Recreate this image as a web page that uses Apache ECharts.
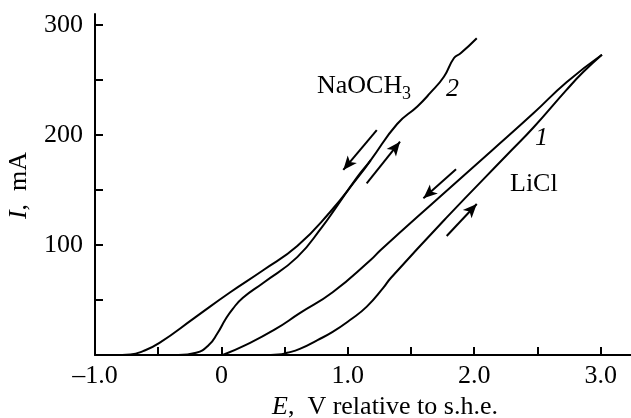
<!DOCTYPE html>
<html>
<head>
<meta charset="utf-8">
<script src="https://cdn.jsdelivr.net/npm/echarts@6/dist/echarts.min.js"></script>
<style>
  html, body { margin: 0; padding: 0; background: #fff; }
  #chart { width: 631px; height: 418px; }
</style>
</head>
<body>
<div id="chart"></div>
<script>
// axis ticks / labels
const xTicks = [-1, -0.5, 0, 0.5, 1, 1.5, 2, 2.5, 3];
const xLabels = [-1, 0, 1, 2, 3];
const yTicks = [0, 50, 100, 150, 200, 250, 300];
const yLabels = [100, 200, 300];

// curve 1 (LiCl), forward and reverse sweeps [E, I]
const liclForward = [[0.33, 0], [0.45, 0.5], [0.52, 2], [0.62, 5.5], [0.76, 13.6], [0.88, 21], [1.02, 32],
  [1.15, 44], [1.28, 61], [1.34, 70], [1.79, 126], [2.26, 182], [2.47, 207], [2.73, 241], [2.86, 257], [3.01, 273]];
const liclReverse = [[3.01, 273], [2.73, 248], [2.47, 220], [2.14, 186], [1.7, 141], [1.26, 95.5], [1.18, 86.4],
  [0.88, 57], [0.62, 38], [0.42, 23], [0.19, 9], [0.01, 0]];

// curve 2 (NaOCH3)
const naForward = [[-0.34, 0], [-0.2, 2], [-0.1, 9], [-0.03, 20], [0.03, 32], [0.09, 42], [0.17, 52], [0.33, 65.5],
  [0.6, 89], [0.8, 117], [0.9, 133], [1.07, 161], [1.18, 177], [1.39, 210], [1.55, 226], [1.65, 238],
  [1.76, 253], [1.84, 270], [1.89, 274], [2.02, 288]];
const naReverse = [[1.18, 177], [1.07, 160], [0.86, 130], [0.6, 99], [0.33, 77], [0.07, 57], [-0.21, 34],
  [-0.49, 11], [-0.62, 3.5], [-0.72, 0.5], [-0.85, 0]];

// sweep direction arrows [from, to]
const arrows = [
  [[1.229, 204.5], [0.964, 168.2]],
  [[1.149, 156], [1.413, 193.9]],
  [[1.856, 168.8], [1.598, 142.4]],
  [[1.782, 108.2], [2.020, 137.3]]
];

const FONT = '"Liberation Serif", "Times New Roman", serif';

function curve(data, extra) {
  return Object.assign({
    type: 'line',
    data: data,
    showSymbol: false,
    smooth: 0.5,
    silent: true,
    lineStyle: { color: '#000', width: 2 }
  }, extra || {});
}

let chart = echarts.init(document.getElementById('chart'));
chart.setOption({
  animation: false,
  grid: { left: 95, right: 0, top: 14, bottom: 63, outerBoundsMode: 'none' },
  xAxis: {
    type: 'value',
    min: -1,
    max: 3.24,
    splitLine: { show: false },
    axisLine: { onZero: false, lineStyle: { color: '#000', width: 2 } },
    axisTick: { inside: true, length: 8, customValues: xTicks, lineStyle: { color: '#000', width: 2 } },
    axisLabel: {
      customValues: xLabels,
      margin: 8,
      color: '#000',
      fontFamily: FONT,
      fontSize: 26,
      formatter: function (v) {
        if (v === 0) return '0';
        return (v < 0 ? '\u2013' : '') + Math.abs(v).toFixed(1);
      }
    },
    name: '{i|E},  V relative to s.h.e.',
    nameLocation: 'middle',
    nameGap: 38,
    nameTextStyle: {
      color: '#000', fontFamily: FONT, fontSize: 26, padding: [0, 0, 0, 44],
      rich: { i: { fontStyle: 'italic', fontFamily: FONT, fontSize: 26, color: '#000' } }
    }
  },
  yAxis: {
    type: 'value',
    min: 0,
    max: 310,
    splitLine: { show: false },
    axisLine: { show: true, onZero: false, lineStyle: { color: '#000', width: 2 } },
    axisTick: { show: true, inside: true, length: 8, customValues: yTicks, lineStyle: { color: '#000', width: 2 } },
    axisLabel: {
      customValues: yLabels,
      margin: 12,
      color: '#000',
      fontFamily: FONT,
      fontSize: 26
    },
    name: '{i|I},  mA',
    nameLocation: 'middle',
    nameGap: 63,
    nameTextStyle: {
      color: '#000', fontFamily: FONT, fontSize: 26, padding: [0, 2, 0, 0],
      rich: { i: { fontStyle: 'italic', fontFamily: FONT, fontSize: 26, color: '#000' } }
    }
  },
  series: [
    curve(liclForward),
    curve(liclReverse, {
      markLine: {
        silent: true,
        symbol: ['none', 'arrow'],
        symbolSize: [9, 14],
        label: { show: false },
        lineStyle: { color: '#000', width: 2, type: 'solid' },
        data: arrows.map(a => [{ coord: a[0] }, { coord: a[1] }])
      }
    }),
    curve(naForward),
    curve(naReverse)
  ],
  graphic: [
    { type: 'text', x: 317, y: 86, style: { text: 'NaOCH', font: '26px ' + FONT, fill: '#000', verticalAlign: 'middle' } },
    { type: 'text', x: 402, y: 94, style: { text: '3', font: '18px ' + FONT, fill: '#000', verticalAlign: 'middle' } },
    { type: 'text', x: 446, y: 89, style: { text: '2', font: 'italic 26px ' + FONT, fill: '#000', verticalAlign: 'middle' } },
    { type: 'text', x: 535, y: 138, style: { text: '1', font: 'italic 26px ' + FONT, fill: '#000', verticalAlign: 'middle' } },
    { type: 'text', x: 510, y: 184, style: { text: 'LiCl', font: '26px ' + FONT, fill: '#000', verticalAlign: 'middle' } }
  ]
});
</script>
</body>
</html>
